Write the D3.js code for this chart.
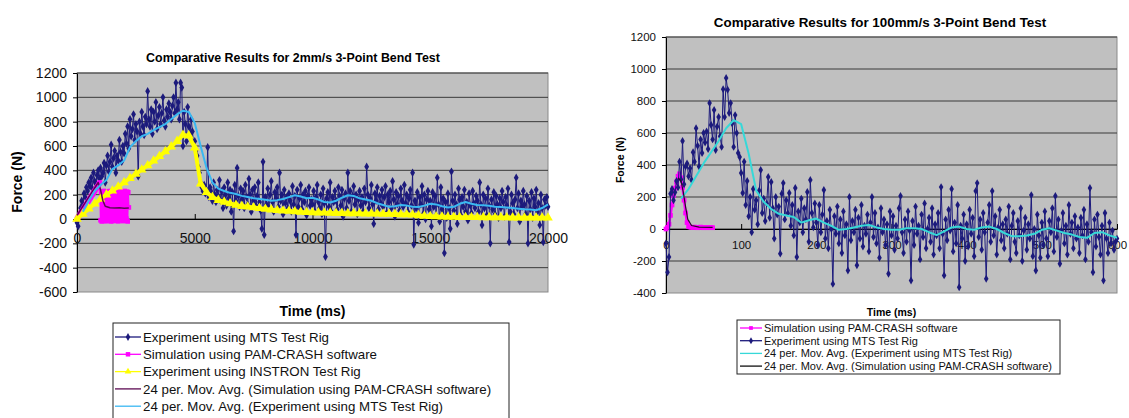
<!DOCTYPE html>
<html>
<head>
<meta charset="utf-8">
<script src="https://cdn.jsdelivr.net/npm/d3@7"></script>
<style>
  html, body { margin: 0; padding: 0; background: #fff; }
  svg { display: block; }
</style>
</head>
<body>
<svg id="chart" width="1129" height="418"></svg>
<script>
// ---------- 2mm/s test (left chart) ----------
// MTS rig, one sample every 50 ms from 0 to 20000 ms
const slowMts = [
  -30, -60, 40, 90, 150, 120, 210, 180, 260, 230, 300, 270, 340, 250, 380, 310, 290, 360, 400, 330,
  420, 350, 380, 460, 300, 440, 520, 390, 470, 610, 430, 500, 560, 380, 520, 480, 650, 550, 470, 600,
  540, 700, 620, 760, 580, 820, 680, 740, 860, 650, 780, 720, 350, 800, 700, 880, 760, 690, 840, 780,
  1050, 820, 760, 900, 700, 880, 800, 960, 740, 850, 920, 780, 870, 1000, 810, 760, 900, 840, 950, 880,
  820, 930, 1000, 870, 1120, 900, 960, 820, 1120, 1080, 600, 880, 780, 640, 920, 760, 700, 820, 720, 620,
  640, 560, 520, 430, 380, 300, 260, 230, 280, 210, 240, 590, 180, 260, 220, 150, 300, 200, 140, 240,
  180, 320, 150, 230, 90, 260, 200, 110, 300, 170, 240, 60, 220, -100, 280, 150, 420, 190, 100, 250,
  160, 230, 90, 280, 180, 120, 330, 200, 60, 240, 150, 260, 110, 190, 300, 140, 70, -80, 470, -130,
  180, 120, 250, 90, 200, 310, 140, 60, 220, 170, 260, 100, 380, 150, 200, 40, 240, 130, 180, 90,
  210, 150, 60, 270, 120, 190, -130, 240, 100, 170, 280, 80, 200, 140, 230, 30, 190, 260, 110, 160,
  120, 230, 60, 180, 280, 140, 90, 200, 40, 250, 130, -310, 170, 220, 100, 300, 60, 180, 140, 230,
  150, 80, 260, 190, 110, 240, 20, 170, 210, 90, 380, 150, 230, 60, 190, 270, 120, 200, 40, 160,
  230, 110, 180, 60, 250, 140, 430, 200, 90, 170, 280, 120, -40, 210, 150, 260, 80, 190, 130, 240,
  100, 180, 270, 50, 200, 140, 230, 90, 310, 160, 20, 220, 120, 190, 70, 250, 150, 100, 280, 130,
  200, 60, 170, 240, 110, 380, -210, 150, 90, 220, -30, 180, 120, 270, 40, 200, 0, 160, 230, 80,
  150, -60, 220, 100, 190, 30, 340, 120, -20, 260, 80, 170, -280, 140, 10, 210, 90, -80, 390, 150,
  70, 200, 120, -40, 250, 160, 30, 180, 100, 240, 60, 140, -10, 210, 110, 50, 230, 130, 90, 190,
  150, 60, 300, 120, -50, 200, 90, 170, 30, 250, 110, -200, 160, 80, 220, 40, 190, 120, 10, 170,
  90, 230, 140, 20, 180, 110, 250, -190, 60, 200, 130, 40, 160, 340, 90, 210, -20, 150, 100, 230,
  120, 40, 190, -200, 150, 80, 220, 10, 170, 100, 240, 60, 130, -50, 200, 90, -190, 160, 110, 180,
  100
];
const slowMtsTime = slowMts.map((_, i) => i * 50);

// INSTRON rig, every 250 ms
const slowInstron = [
  0, 42, 85, 125, 165, 200, 232, 265, 300, 335, 370, 405, 440, 478, 515, 555, 595, 640, 690, 685,
  585, 290, 220, 180, 155, 140, 128, 115, 106, 100, 94, 88, 82, 77, 72, 68, 65, 62, 58, 56,
  54, 52, 51, 50, 48, 47, 46, 46, 45, 44, 44, 43, 42, 41, 40, 38, 37, 35, 30, 25,
  22, 20, 18, 17, 16, 15, 15, 14, 14, 13, 13, 12, 12, 12, 11, 11, 10, 10, 10, 10,
  10
];
const slowInstronTime = slowInstron.map((_, i) => i * 250);

// PAM-CRASH simulation, every 25 ms
const slowSim = [
  0, 8, 16, 22, 31, 39, 46, 53, 62, 70, 77, 84, 92, 101, 108, 115, 123, 132, 139, 146,
  154, 163, 170, 177, 185, 194, 200, 207, 216, 225, 231, 238, 247, 255, 262, 269, 278, 286, 293,
  300, -10, 225, -20, 215, 5, 230, -15, 220, 0, 228, -18, 212, 8, 225, -12, 218, -5, 230, -20,
  210, 3, 226, -16, 220, -8, 232, -14, 215, 6, 224, -19, 218, -2, 229, -11, 213, 4, 227, -17,
  221, -6, 230, -13, 216, 2, 225, -20, 219, 95
];
const slowSimTime = slowSim.map((_, i) => i * 25);

// 24 per. moving-average trendlines as drawn
const slowMtsAvgTime = [
  250, 500, 750, 1000, 1250, 1500, 1750, 2000, 2250, 2500, 2750, 3000, 3250, 3500, 3750, 4000,
  4250, 4500, 4750, 5000, 5250, 5500, 5750, 6000, 6250, 6500, 6750, 7000, 7250, 7500, 7750, 8000,
  8250, 8500, 8750, 9000, 9250, 9500, 9750, 10000, 10250, 10500, 10750, 11000, 11250, 11500, 11750, 12000,
  12250, 12500, 12750, 13000, 13250, 13500, 13750, 14000, 14250, 14500, 14750, 15000, 15250, 15500, 15750, 16000,
  16250, 16500, 16750, 17000, 17250, 17500, 17750, 18000, 18250, 18500, 18750, 19000, 19250, 19500, 19750, 20000
];
const slowMtsAvg = [
  60, 150, 230, 280, 320, 410, 440, 480, 590, 640, 680, 700, 730, 755, 780, 820,
  860, 890, 880, 790, 600, 420, 300, 250, 230, 215, 205, 190, 180, 170, 165, 158,
  150, 155, 165, 180, 195, 185, 170, 175, 160, 140, 135, 150, 175, 195, 190, 170,
  160, 150, 130, 115, 100, 105, 115, 110, 100, 98, 110, 125, 120, 105, 95, 100,
  125, 140, 125, 115, 112, 108, 100, 98, 95, 90, 85, 80, 78, 72, 90, 120
];
const slowSimAvgTime = [0, 150, 300, 450, 600, 750, 900, 1000, 1100, 1200, 1400, 1600, 1800, 2000, 2200];
const slowSimAvg = [30, 75, 120, 165, 210, 255, 300, 240, 150, 105, 92, 90, 92, 88, 90];

const slowTimeTicks = [0, 5000, 10000, 15000, 20000];
const slowForceTicks = [-600, -400, -200, 0, 200, 400, 600, 800, 1000, 1200];
const slowLegend = [
  'Experiment using MTS Test Rig',
  'Simulation using PAM-CRASH software',
  'Experiment using INSTRON Test Rig',
  '24 per. Mov. Avg. (Simulation using PAM-CRASH software)',
  '24 per. Mov. Avg. (Experiment using MTS Test Rig)'
];

// ---------- 100mm/s test (right chart) ----------
// MTS rig, one sample every 2 ms from 0 to 600 ms
const fastMts = [
  -90, -270, -175, 220, 250, 180, 230, 300, 260, 420, 310, 550, 280, 390, 410, 330, 380, 306, 480, 420, 630, 520, 390, 560, 475,
  600, 540, 610, 500, 787, 650, 560, 744, 494, 640, 700, 580, 513, 874, 700, 944, 870, 725, 787, 660, 513, 712, 600, 475, 450,
  350, 225, 420, 150, 300, 80, 200, -20, 250, 120, 180, 30, 240, 369, 100, 190, 50, 160, 325, 70, 294, 130, -60, 200, 90,
  140, -154, 220, 287, 60, 180, 99, 225, 20, 150, -40, 256, -175, 110, 40, 190, -20, 130, 60, 231, -80, 306, 100, 10, 160,
  40, -100, 150, -20, 90, 244, -60, 50, -120, 120, 0, -343, 80, -30, 140, -90, 60, -150, 110, -40, 30, -259, 200, -70, 50,
  -20, 120, -227, 70, -60, 150, -110, 20, -30, 90, -140, 40, 200, -50, 100, -90, 10, -180, 130, -20, 60, -100, 30, -280, 110,
  -40, 80, -130, 20, -60, 130, 206, -20, -150, 60, -80, 110, -10, -322, 50, -100, 140, -30, 20, -190, 90, -50, 160, -120, 0,
  70, -80, 130, -160, 30, -40, 100, -120, 262, -30, -290, 60, -70, 120, -10, 250, -140, 40, -90, 150, -364, 20, -60, 90, -200,
  30, -110, 120, -30, 70, -170, 237, 287, -50, 60, -130, 100, -20, -311, 40, 150, -80, 237, -40, 80, -160, 10, 120, -70, 30,
  -120, 60, -30, 140, -190, 20, 100, -80, -150, 50, -40, 130, -200, -10, 70, -130, 30, -60, 212, -170, 0, -259, 90, -40, -180,
  40, -100, 110, -60, -170, 50, -20, 130, -140, 206, -50, 60, -217, -10, 100, -90, 20, -160, 150, -30, 40, -120, 80, -60, 10,
  -150, 70, -40, 120, -190, 30, -80, 256, -20, -270, 60, -110, 90, -50, -160, 20, -322, 100, -60, -150, 40, -90, -10, -130, -80,
  -60
];
const fastMtsTime = fastMts.map((_, i) => i * 2);

const fastSim = [0, 10, 30, 85, 150, 210, 255, 295, 330, 345, 320, 260, 180, 100, 40, 15,
                 12, 10, 10, 12, 10, 8, 10, 12, 10, 8, 10, 10, 8, 10, 10, 8];
const fastSimTime = fastSim.map((_, i) => i * 2);

const fastMtsAvgTime = [
  20, 30, 40, 50, 60, 70, 80, 90, 100, 110, 120, 130, 140, 150, 160, 170, 180, 190, 200, 210,
  220, 230, 240, 250, 260, 270, 280, 290, 300, 310, 320, 330, 340, 350, 360, 370, 380, 390, 400, 410,
  420, 430, 440, 450, 460, 470, 480, 490, 500, 510, 520, 530, 540, 550, 560, 570, 580, 590, 600
];
const fastMtsAvg = [
  190, 250, 330, 410, 480, 550, 630, 680, 655, 470, 240, 170, 125, 95, 85, 75, 40, 55, 65, 40,
  20, -5, 0, 10, 20, 25, 10, 0, -5, -5, 5, 5, 0, -20, -38, -15, 10, 15, 0, -5,
  10, 15, 0, -25, -45, -45, -40, -30, -5, 5, -10, -25, -35, -50, -55, -25, -20, -40, -55
];
const fastSimAvgTime = [16, 20, 23, 26, 29, 34, 44, 62];
const fastSimAvg = [320, 300, 230, 140, 60, 22, 12, 10];

const fastTimeTicks = [0, 100, 200, 300, 400, 500, 600];
const fastForceTicks = [-400, -200, 0, 200, 400, 600, 800, 1000, 1200];
const fastLegend = [
  'Simulation using PAM-CRASH software',
  'Experiment using MTS Test Rig',
  '24 per. Mov. Avg. (Experiment using MTS Test Rig)',
  '24 per. Mov. Avg. (Simulation using PAM-CRASH software)'
];

const FONT = 'Arial, "Liberation Sans", sans-serif';
const NAVY = '#1c1a7c', MAGENTA = '#ff00ff', YELLOW = '#ffff00';
const svg = d3.select('#chart');
const plain = d => String(d);   // Excel shows 1200 and -600, no grouping

function drawPanel(o) {
  const g = svg.append('g');
  const x = d3.scaleLinear().domain(o.xDomain).range([o.left, o.right]);
  const y = d3.scaleLinear().domain(o.yDomain).range([o.bottom, o.top]);

  // plot area
  g.append('rect')
    .attr('x', o.left).attr('y', o.top)
    .attr('width', o.right - o.left).attr('height', o.bottom - o.top)
    .attr('fill', '#c0c0c0').attr('stroke', '#8a8a8a');

  g.append('g').selectAll('line')
    .data(o.yTicks.slice(1))
    .join('line')
    .attr('x1', o.left).attr('x2', o.right)
    .attr('y1', d => y(d)).attr('y2', d => y(d))
    .attr('stroke', '#3a3a3a');

  const yAxis = g.append('g')
    .attr('transform', `translate(${o.left},0)`)
    .call(d3.axisLeft(y).tickValues(o.yTicks).tickFormat(plain)
      .tickSizeInner(4).tickSizeOuter(0).tickPadding(o.yPad));
  yAxis.select('.domain').attr('stroke', '#000');
  yAxis.selectAll('text').attr('font-size', o.tickFont).attr('font-family', FONT).attr('fill', '#111');

  const xAxis = g.append('g')
    .attr('transform', `translate(0,${y(0)})`)
    .call(d3.axisBottom(x).tickValues(o.xTicks).tickFormat(plain)
      .tickSizeInner(-5).tickSizeOuter(0).tickPadding(o.xPad));
  xAxis.select('.domain').attr('stroke', '#000');
  xAxis.selectAll('text').attr('font-size', o.tickFont).attr('font-family', FONT).attr('fill', '#111');

  // titles
  g.append('text').attr('x', o.titleX).attr('y', o.titleY)
    .attr('text-anchor', 'middle').attr('font-family', FONT).attr('font-weight', 'bold')
    .attr('font-size', o.titleFont).text(o.title);
  g.append('text').attr('x', (o.left + o.right) / 2).attr('y', o.xTitleY)
    .attr('text-anchor', 'middle').attr('font-family', FONT).attr('font-weight', 'bold')
    .attr('font-size', o.axisFont).text('Time (ms)');
  g.append('text')
    .attr('transform', `translate(${o.yTitleX},${o.yTitleY}) rotate(-90)`)
    .attr('text-anchor', 'middle').attr('font-family', FONT).attr('font-weight', 'bold')
    .attr('font-size', o.axisFont).text('Force (N)');

  // series, in Excel drawing order
  o.series.forEach(s => {
    const pts = s.t.map((t, i) => [x(t), y(s.v[i])]);
    g.append('path')
      .attr('d', d3.line()(pts))
      .attr('fill', 'none').attr('stroke', s.color)
      .attr('stroke-width', s.width).attr('stroke-linejoin', 'round');
    if (s.symbol) {
      const shape = d3.symbol(s.symbol, s.size)();
      g.append('g').selectAll('path')
        .data(pts)
        .join('path')
        .attr('transform', p => `translate(${p[0]},${p[1]})`)
        .attr('d', shape)
        .attr('fill', s.color);
    }
  });

  // legend
  const lg = svg.append('g');
  const L = o.legend;
  lg.append('rect').attr('x', L.x).attr('y', L.y).attr('width', L.w).attr('height', L.h)
    .attr('fill', '#fff').attr('stroke', '#222');
  L.items.forEach((it, i) => {
    const cy = L.first + i * L.gap;
    lg.append('line').attr('x1', L.key[0]).attr('x2', L.key[1]).attr('y1', cy).attr('y2', cy)
      .attr('stroke', it.color).attr('stroke-width', 1.3);
    if (it.symbol) {
      lg.append('path')
        .attr('transform', `translate(${(L.key[0] + L.key[1]) / 2},${cy})`)
        .attr('d', d3.symbol(it.symbol, it.size)())
        .attr('fill', it.color);
    }
    lg.append('text').attr('x', L.textX).attr('y', cy).attr('dy', '0.36em')
      .attr('font-family', FONT).attr('font-size', L.font).attr('fill', '#111')
      .text(it.name);
  });
}

drawPanel({
  left: 77, right: 548, top: 73, bottom: 292,
  xDomain: [0, 20000], yDomain: [-600, 1200],
  xTicks: slowTimeTicks, yTicks: slowForceTicks,
  tickFont: 14, yPad: 6, xPad: 14,
  title: 'Comparative Results for 2mm/s 3-Point Bend Test', titleX: 293, titleY: 62, titleFont: 12.4,
  axisFont: 14, xTitleY: 316, yTitleX: 22, yTitleY: 182,
  series: [
    { t: slowMtsTime, v: slowMts, color: NAVY, width: 1, symbol: d3.symbolDiamond, size: 20 },
    { t: slowSimTime, v: slowSim, color: MAGENTA, width: 1.5, symbol: d3.symbolSquare, size: 22 },
    { t: slowInstronTime, v: slowInstron, color: YELLOW, width: 4, symbol: d3.symbolTriangle, size: 40 },
    { t: slowSimAvgTime, v: slowSimAvg, color: '#5c0a52', width: 1.5 },
    { t: slowMtsAvgTime, v: slowMtsAvg, color: '#3ab8f2', width: 2 }
  ],
  legend: {
    x: 113, y: 323, w: 396, h: 110, first: 337, gap: 17.3, key: [115, 141], textX: 143, font: 13.3,
    items: [
      { name: slowLegend[0], color: NAVY, symbol: d3.symbolDiamond, size: 18 },
      { name: slowLegend[1], color: MAGENTA, symbol: d3.symbolSquare, size: 20 },
      { name: slowLegend[2], color: YELLOW, symbol: d3.symbolTriangle, size: 20 },
      { name: slowLegend[3], color: '#5c0a52' },
      { name: slowLegend[4], color: '#3ab8f2' }
    ]
  }
});

drawPanel({
  left: 666, right: 1117, top: 37, bottom: 293,
  xDomain: [0, 600], yDomain: [-400, 1200],
  xTicks: fastTimeTicks, yTicks: fastForceTicks,
  tickFont: 11.5, yPad: 6, xPad: 12,
  title: 'Comparative Results for 100mm/s 3-Point Bend Test', titleX: 880, titleY: 27, titleFont: 13.4,
  axisFont: 10.5, xTitleY: 316, yTitleX: 624, yTitleY: 160,
  series: [
    { t: fastSimTime, v: fastSim, color: MAGENTA, width: 2.5, symbol: d3.symbolSquare, size: 22 },
    { t: fastMtsTime, v: fastMts, color: NAVY, width: 1, symbol: d3.symbolDiamond, size: 18 },
    { t: fastMtsAvgTime, v: fastMtsAvg, color: '#36d8d8', width: 2 },
    { t: fastSimAvgTime, v: fastSimAvg, color: '#2a0a2a', width: 1.2 }
  ],
  legend: {
    x: 737, y: 320, w: 323, h: 54, first: 328, gap: 12.7, key: [740, 762], textX: 764, font: 11,
    items: [
      { name: fastLegend[0], color: MAGENTA, symbol: d3.symbolSquare, size: 14 },
      { name: fastLegend[1], color: NAVY, symbol: d3.symbolDiamond, size: 14 },
      { name: fastLegend[2], color: '#36d8d8' },
      { name: fastLegend[3], color: '#111' }
    ]
  }
});
</script>
</body>
</html>
